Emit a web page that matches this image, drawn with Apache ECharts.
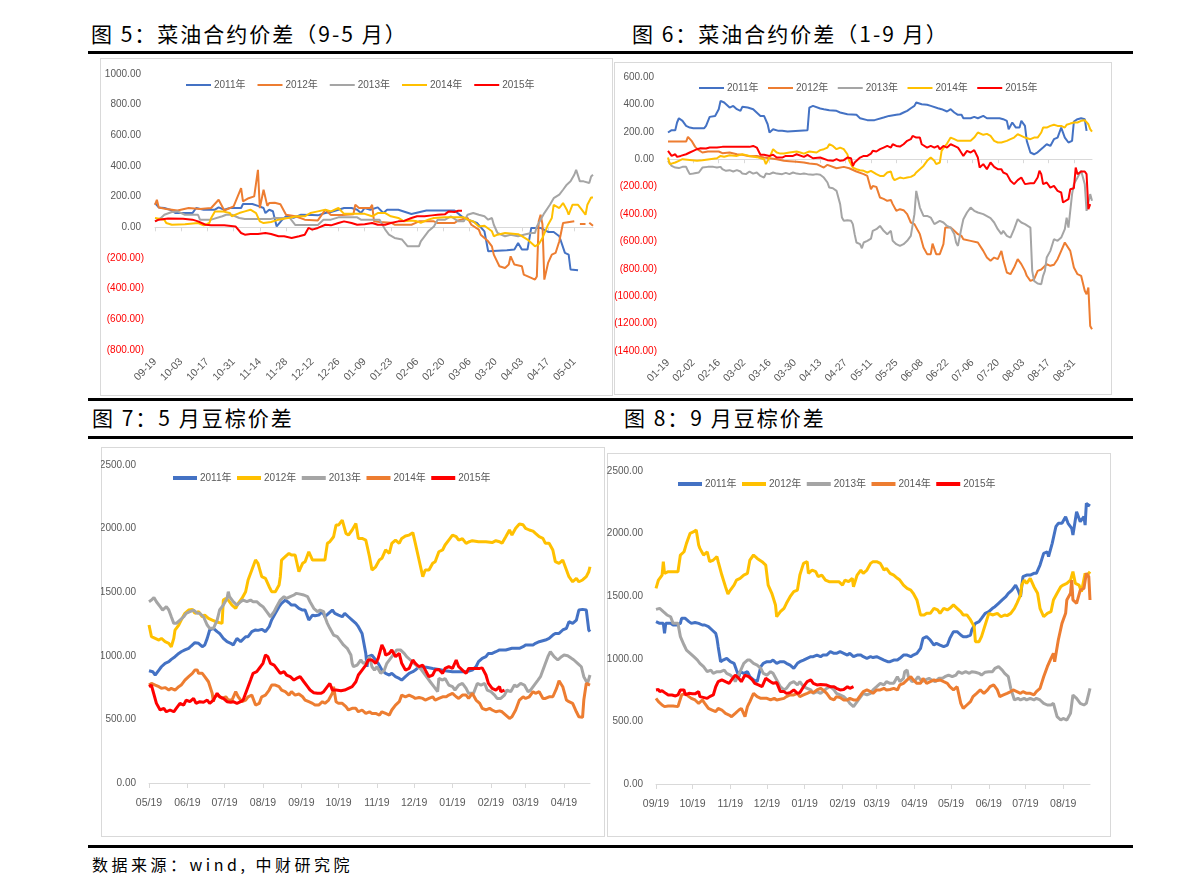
<!DOCTYPE html>
<html><head><meta charset="utf-8">
<script src="https://cdn.jsdelivr.net/npm/echarts@6/dist/echarts.min.js"></script>
<style>
html,body{margin:0;padding:0;background:#fff;}
body{width:1191px;height:895px;position:relative;overflow:hidden;font-family:"Noto Sans CJK SC",sans-serif;}
.t{position:absolute;font-size:21px;line-height:22px;letter-spacing:2px;color:#000;white-space:nowrap;}
.src{position:absolute;font-size:16px;line-height:18px;letter-spacing:3.5px;color:#000;white-space:nowrap;}
.rule{position:absolute;left:88px;width:1045px;height:3px;background:#000;}
.box{position:absolute;outline:1px solid #D9D9D9;outline-offset:-1px;}
</style></head><body>
<div class="t" style="left:91px;top:22px">图 5：菜油合约价差（9-5 月）</div>
<div class="t" style="left:632px;top:22px">图 6：菜油合约价差（1-9 月）</div>
<div class="rule" style="top:51px"></div>
<div id="c5" class="box" style="left:100px;top:58px;width:513px;height:338px"></div>
<div id="c6" class="box" style="left:614px;top:62px;width:498px;height:333px"></div>
<div class="rule" style="top:398px"></div>
<div class="t" style="left:92px;top:406px">图 7：5 月豆棕价差</div>
<div class="t" style="left:624px;top:406px">图 8：9 月豆棕价差</div>
<div class="rule" style="top:436px"></div>
<div id="c7" class="box" style="left:101px;top:447px;width:504px;height:390px"></div>
<div id="c8" class="box" style="left:607px;top:453px;width:504px;height:384px"></div>
<div class="rule" style="top:845px"></div>
<div class="src" style="left:92px;top:855px">数据来源：wind, 中财研究院</div>
<script>
// ---------- legend names ----------
const yearNames = ['2011年','2012年','2013年','2014年','2015年'];

// ---------- axis definitions (start date, number of calendar days) ----------
const axis5 = {start:[2014,9,19], days:235, sep:'-'};
const axis6 = {start:[2015,1,19], days:235, sep:'-'};
const axis7 = {start:[2014,5,19], days:357, sep:'/'};
const axis8 = {start:[2014,9,19], days:357, sep:'/'};

// ---------- 图5 data: [day offset from 09-19, value] ----------
const c5_2011 = [[0,158],[2,130],[5,126],[8,115],[11,93],[20,93],[22,126],[26,115],[32,115],[34,130],[37,115],[40,126],[46,126],[47,152],[52,152],[55,140],[58,126],[59,93],[61,115],[63,105],[65,6],[68,50],[70,72],[74,62],[78,82],[84,80],[87,78],[91,93],[94,100],[98,115],[101,126],[105,126],[108,115],[110,93],[112,126],[115,115],[119,130],[122,93],[124,115],[130,115],[137,87],[145,110],[160,110],[165,60],[172,28],[176,-26],[178,-156],[188,-150],[192,-145],[194,-102],[196,-145],[199,-145],[201,-4],[206,-4],[210,-30],[213,-30],[216,-58],[219,-167],[221,-178],[222,-275],[226,-280]];
const c5_2012 = [[0,147],[1,180],[2,130],[6,120],[12,110],[18,126],[24,120],[30,126],[34,180],[37,110],[42,137],[46,256],[47,169],[50,190],[53,202],[55,375],[56,125],[58,245],[60,140],[61,158],[64,160],[67,150],[70,82],[75,72],[80,50],[87,45],[91,115],[94,80],[100,80],[106,85],[107,147],[109,126],[115,126],[116,147],[117,40],[120,35],[126,30],[128,17],[137,17],[139,28],[141,39],[149,39],[151,28],[160,28],[162,45],[167,61],[169,17],[173,-15],[174,-48],[176,-69],[178,-91],[180,-124],[181,-178],[184,-254],[187,-265],[189,-243],[190,-189],[192,-243],[196,-254],[197,-308],[201,-330],[203,-341],[204,-320],[205,39],[206,82],[207,20],[208,-341],[209,-330],[210,-232],[212,-178],[214,-167],[216,-91],[218,28],[219,39],[224,39],[225,null],[227,22],[230,22],[231,null],[232,30],[234,10]];
const c5_2013 = [[0,39],[3,60],[5,82],[9,100],[12,104],[16,82],[23,82],[24,50],[30,50],[36,72],[38,82],[41,82],[45,61],[48,55],[62,55],[64,61],[72,61],[75,15],[87,15],[90,50],[94,50],[98,65],[108,65],[110,50],[120,50],[121,39],[123,-15],[125,-48],[128,-69],[132,-80],[135,-124],[141,-124],[142,-91],[146,-26],[149,6],[151,50],[155,50],[158,72],[162,39],[165,39],[167,82],[170,93],[173,82],[174,72],[176,72],[178,50],[180,61],[181,17],[183,-37],[187,-58],[190,-48],[194,-58],[197,-48],[201,-37],[203,-37],[204,6],[206,50],[208,93],[211,147],[213,190],[216,213],[218,245],[220,278],[222,300],[224,343],[225,375],[227,300],[229,300],[232,289],[233,332],[234,343]];
const c5_2014 = [[0,61],[5,50],[6,28],[9,17],[16,20],[23,28],[26,13],[29,28],[30,61],[32,104],[36,104],[40,93],[41,72],[45,93],[48,104],[51,115],[54,93],[56,39],[58,28],[62,35],[66,50],[71,61],[76,72],[80,72],[83,93],[87,104],[91,115],[94,104],[98,126],[101,88],[112,88],[116,72],[119,93],[123,93],[126,72],[130,61],[133,39],[137,45],[140,39],[142,30],[146,50],[149,61],[155,65],[165,65],[167,50],[170,39],[173,6],[174,-4],[176,10],[180,-26],[181,-58],[183,-48],[187,-37],[194,-45],[196,-58],[199,-80],[203,-124],[205,-110],[207,-69],[210,17],[212,61],[213,147],[216,126],[218,158],[220,115],[221,82],[223,147],[226,147],[228,115],[230,82],[231,147],[233,195],[234,195]];
const c5_2015 = [[0,39],[2,50],[7,58],[15,56],[20,50],[23,39],[27,17],[30,13],[37,13],[43,6],[46,-37],[48,-48],[51,-43],[55,-43],[59,-37],[62,-43],[66,-58],[69,-58],[73,-69],[77,-58],[80,-48],[82,-4],[84,-15],[87,-4],[91,17],[94,13],[98,28],[101,39],[105,28],[108,17],[112,20],[116,28],[119,17],[123,17],[126,28],[130,39],[133,42],[137,61],[140,72],[144,72],[148,78],[151,82],[155,86],[157,104],[160,100],[162,108],[164,108]];

// ---------- 图6 data: [day offset from 01-19, value] ----------
const c6_2011 = [[0,195],[2,212],[4,212],[5,268],[6,299],[8,280],[10,243],[12,231],[14,226],[20,226],[21,243],[23,309],[26,316],[28,365],[29,426],[31,414],[32,401],[34,377],[36,389],[38,365],[40,353],[41,382],[44,377],[47,365],[51,316],[53,316],[55,255],[56,195],[58,219],[61,207],[63,207],[66,202],[67,212],[77,212],[78,377],[80,389],[84,370],[86,365],[89,358],[93,353],[95,341],[99,328],[104,324],[106,299],[110,285],[114,285],[115,299],[119,304],[122,316],[126,324],[128,328],[130,341],[132,353],[134,372],[136,389],[137,414],[140,401],[143,397],[145,389],[149,372],[151,365],[154,348],[156,365],[158,341],[160,324],[162,324],[163,299],[167,299],[169,309],[171,299],[174,316],[176,299],[180,299],[183,299],[185,292],[187,280],[188,219],[190,268],[192,231],[194,231],[195,280],[197,243],[198,134],[200,49],[202,36],[204,50],[205,61],[207,85],[209,109],[211,97],[213,146],[215,158],[217,231],[219,158],[221,122],[223,134],[224,275],[226,292],[228,299],[230,292],[231,207]];
const c6_2012 = [[0,129],[10,129],[11,163],[13,134],[15,90],[17,66],[19,49],[22,56],[25,56],[28,56],[30,44],[34,49],[38,36],[41,32],[45,22],[49,24],[53,12],[56,7],[60,0],[64,-12],[67,-15],[71,-19],[75,-24],[78,-32],[82,-36],[86,-61],[88,-41],[89,-49],[93,-66],[97,-56],[100,-66],[104,-90],[108,-109],[110,-122],[112,-219],[113,-195],[115,-202],[117,-280],[119,-290],[121,-304],[123,-298],[124,-328],[126,-377],[128,-365],[130,-372],[132,-401],[134,-462],[136,-474],[138,-523],[139,-547],[141,-645],[143,-693],[145,-693],[146,-616],[147,-620],[148,-693],[150,-693],[152,-620],[153,-499],[154,-487],[156,-499],[158,-523],[160,-547],[162,-560],[163,-584],[167,-596],[171,-608],[172,-620],[174,-669],[176,-718],[178,-742],[180,-718],[182,-730],[184,-669],[185,-730],[187,-827],[189,-839],[191,-791],[193,-730],[195,-766],[197,-815],[198,-851],[200,-888],[202,-878],[204,-815],[206,-805],[207,-791],[209,-766],[211,-778],[213,-770],[215,-730],[217,-669],[219,-608],[220,-596],[222,-669],[224,-791],[226,-839],[228,-851],[230,-961],[231,-985],[232,-937],[233,-1217],[234,-1241]];
const c6_2013 = [[0,-12],[2,-49],[4,-61],[6,-65],[8,-56],[10,-56],[11,-85],[12,-109],[14,-105],[17,-97],[19,-61],[20,-70],[22,-56],[25,-56],[27,-61],[29,-56],[30,-73],[32,-85],[34,-80],[36,-90],[38,-80],[40,-90],[41,-105],[43,-109],[45,-90],[47,-105],[49,-97],[51,-122],[53,-134],[54,-105],[56,-109],[58,-97],[60,-105],[63,-109],[65,-100],[67,-109],[69,-97],[71,-105],[73,-109],[75,-105],[77,-109],[78,-105],[80,-114],[82,-109],[84,-114],[86,-134],[88,-170],[89,-207],[91,-212],[93,-231],[95,-328],[96,-426],[97,-450],[99,-445],[101,-450],[102,-474],[103,-547],[104,-608],[106,-620],[107,-650],[108,-608],[110,-596],[112,-580],[113,-523],[115,-511],[117,-487],[119,-523],[121,-547],[123,-523],[124,-596],[126,-620],[128,-633],[130,-620],[132,-596],[134,-560],[135,-547],[136,-401],[137,-231],[139,-353],[141,-414],[143,-414],[145,-426],[147,-474],[148,-474],[150,-450],[152,-462],[154,-487],[156,-499],[158,-547],[159,-608],[160,-633],[162,-499],[163,-438],[165,-389],[167,-353],[169,-377],[171,-389],[172,-385],[174,-401],[176,-415],[178,-430],[180,-462],[182,-511],[184,-547],[185,-523],[187,-560],[189,-572],[191,-511],[193,-438],[195,-462],[197,-474],[198,-474],[200,-499],[201,-815],[202,-888],[204,-907],[206,-912],[207,-851],[208,-815],[209,-718],[211,-669],[213,-584],[215,-596],[217,-572],[219,-511],[220,-426],[221,-499],[223,-255],[224,-182],[226,-134],[228,-85],[230,-182],[231,-377],[232,-389],[233,-255],[234,-304]];
const c6_2014 = [[0,12],[1,-36],[2,-49],[4,-24],[6,-12],[8,0],[12,-5],[16,-12],[19,-8],[23,0],[27,7],[29,24],[31,18],[34,29],[38,24],[41,36],[45,24],[49,15],[53,0],[54,-36],[55,-12],[56,12],[58,73],[60,49],[62,41],[64,41],[67,49],[71,56],[73,49],[75,41],[78,56],[82,49],[84,66],[86,73],[88,85],[89,109],[91,97],[93,73],[95,85],[97,73],[99,36],[100,-12],[102,-61],[104,-73],[106,-80],[108,-85],[110,-97],[112,-85],[113,-97],[115,-109],[117,-122],[119,-122],[121,-97],[123,-90],[124,-134],[125,-153],[126,-146],[128,-134],[130,-140],[132,-134],[134,-129],[136,-114],[137,-97],[139,-73],[141,-49],[143,-12],[145,12],[147,-12],[148,-36],[150,-24],[151,61],[152,80],[154,114],[156,158],[158,146],[160,134],[162,134],[163,122],[165,134],[167,134],[169,158],[171,195],[172,187],[174,178],[176,185],[178,170],[180,134],[182,122],[184,122],[185,134],[187,134],[189,146],[191,158],[193,182],[195,170],[197,158],[198,146],[200,146],[202,158],[204,158],[206,195],[207,231],[209,231],[211,243],[213,251],[215,243],[217,243],[219,231],[220,251],[222,260],[224,268],[226,268],[228,280],[230,285],[231,280],[232,255],[233,219],[234,202]];
const c6_2015 = [[0,61],[2,24],[4,36],[5,17],[7,24],[8,24],[10,36],[12,49],[14,61],[16,73],[18,80],[19,73],[21,78],[23,85],[27,85],[30,90],[34,90],[38,90],[41,90],[45,90],[47,97],[49,85],[51,32],[53,32],[56,24],[58,32],[60,12],[63,12],[65,24],[69,24],[71,36],[75,17],[77,32],[80,7],[84,12],[88,-7],[89,-2],[91,-12],[93,0],[95,-12],[97,-7],[99,12],[101,7],[102,-49],[103,-24],[104,-12],[106,12],[108,24],[110,24],[112,41],[113,61],[115,56],[117,73],[119,85],[121,97],[123,85],[124,109],[126,97],[128,92],[130,109],[132,134],[134,146],[135,170],[136,163],[137,158],[139,158],[140,109],[143,85],[145,97],[147,85],[149,97],[150,73],[152,97],[154,85],[156,109],[158,97],[160,85],[161,66],[163,24],[165,61],[167,49],[169,66],[171,12],[172,-61],[173,-49],[174,-36],[176,-73],[178,-24],[180,-56],[182,-73],[184,-73],[185,-97],[187,-109],[189,-158],[191,-182],[193,-153],[195,-134],[197,-182],[198,-170],[200,-175],[202,-175],[204,-134],[205,-85],[206,-109],[207,-182],[208,-195],[209,-170],[211,-207],[213,-195],[215,-231],[217,-243],[218,-316],[219,-328],[221,-292],[222,-219],[224,-212],[225,-61],[226,-109],[227,-100],[228,-90],[230,-90],[231,-109],[232,-365],[233,-328]];

// ---------- 图7 data: [day offset from 05/19, value] ----------
const c7_2011 = [[0,883],[3,875],[5,849],[8,888],[10,914],[13,941],[16,954],[18,972],[21,993],[24,1019],[26,1032],[29,1046],[32,1059],[34,1077],[37,1103],[40,1098],[43,1072],[45,1085],[47,1137],[49,1203],[52,1216],[55,1190],[57,1176],[60,1137],[63,1111],[66,1098],[68,1085],[71,1137],[74,1111],[75,1098],[78,1150],[80,1150],[83,1190],[86,1203],[88,1200],[91,1208],[94,1190],[97,1229],[99,1281],[102,1334],[105,1386],[107,1412],[110,1438],[113,1417],[115,1399],[118,1399],[121,1373],[124,1360],[126,1360],[129,1281],[132,1320],[134,1315],[137,1320],[140,1347],[142,1307],[145,1334],[148,1360],[150,1334],[153,1320],[156,1307],[158,1334],[161,1307],[164,1281],[167,1255],[169,1229],[172,1176],[175,1019],[176,914],[177,993],[180,1006],[183,967],[185,941],[188,888],[191,862],[194,849],[196,862],[199,836],[202,822],[204,809],[207,836],[210,862],[213,875],[215,888],[218,914],[224,910],[229,900],[234,893],[239,883],[245,875],[256,875],[261,888],[264,914],[266,954],[269,980],[272,993],[274,1019],[277,1019],[280,1032],[283,1046],[288,1046],[293,1059],[299,1059],[302,1072],[304,1085],[310,1085],[312,1098],[315,1111],[320,1124],[323,1137],[326,1163],[328,1176],[331,1176],[334,1203],[337,1216],[339,1268],[342,1255],[345,1281],[347,1360],[350,1365],[353,1360],[355,1203],[356,1190]];
const c7_2012 = [[0,1242],[2,1150],[5,1137],[8,1124],[10,1137],[13,1111],[16,1098],[18,1071],[20,1137],[21,1202],[24,1242],[26,1281],[29,1334],[32,1360],[35,1365],[37,1334],[40,1347],[43,1307],[45,1320],[48,1294],[51,1281],[54,1268],[59,1255],[60,1438],[62,1451],[64,1438],[67,1399],[70,1373],[72,1412],[75,1451],[78,1504],[80,1596],[83,1674],[86,1753],[88,1727],[91,1622],[94,1609],[97,1543],[99,1504],[102,1504],[105,1556],[106,1622],[107,1753],[110,1779],[113,1805],[115,1792],[118,1792],[121,1661],[124,1727],[126,1740],[129,1818],[132,1753],[142,1753],[144,1884],[146,1897],[149,1936],[151,2028],[153,2028],[156,2067],[159,1962],[161,1949],[164,1989],[167,2041],[169,1923],[172,1923],[175,1910],[178,1779],[180,1674],[183,1700],[186,1753],[188,1766],[191,1832],[194,1805],[196,1884],[199,1910],[202,1884],[204,1923],[207,1942],[210,1949],[213,1968],[215,1884],[218,1753],[221,1622],[223,1674],[226,1674],[229,1727],[231,1740],[234,1818],[237,1832],[239,1871],[242,1910],[245,1949],[248,1936],[250,1910],[253,1920],[256,1884],[258,1895],[261,1905],[266,1897],[272,1897],[277,1890],[280,1905],[283,1897],[285,1884],[288,1936],[291,1989],[293,1949],[296,2002],[299,2036],[302,2030],[304,2002],[307,1989],[310,1980],[312,1962],[315,1936],[318,1923],[320,1884],[323,1884],[326,1832],[328,1740],[331,1727],[334,1753],[337,1674],[339,1622],[342,1582],[345,1609],[347,1582],[350,1596],[353,1622],[355,1661],[356,1700]];
const c7_2013 = [[0,1425],[2,1438],[4,1459],[6,1425],[9,1386],[11,1360],[14,1386],[16,1360],[18,1307],[20,1255],[22,1255],[25,1281],[28,1307],[30,1334],[33,1347],[36,1360],[39,1334],[41,1334],[44,1307],[47,1242],[49,1216],[52,1216],[55,1281],[57,1360],[60,1399],[63,1451],[64,1504],[65,1465],[68,1425],[71,1399],[74,1425],[76,1438],[79,1425],[82,1438],[84,1425],[87,1425],[90,1399],[92,1386],[95,1347],[98,1307],[101,1347],[103,1386],[106,1438],[109,1465],[111,1451],[114,1465],[117,1478],[119,1491],[122,1485],[125,1478],[128,1465],[130,1425],[133,1373],[136,1347],[138,1360],[141,1347],[142,1307],[144,1255],[146,1216],[149,1163],[152,1150],[155,1111],[157,1085],[160,1059],[163,1006],[164,941],[165,914],[168,927],[171,967],[173,941],[176,955],[178,993],[180,914],[182,888],[184,914],[187,862],[190,888],[192,941],[195,980],[198,1019],[200,1046],[203,1046],[206,1019],[208,993],[211,967],[214,941],[217,914],[219,901],[222,862],[225,822],[227,796],[230,757],[233,718],[234,822],[237,809],[239,822],[242,770],[245,757],[247,731],[250,770],[253,783],[256,744],[258,705],[262,705],[265,783],[268,770],[271,783],[273,731],[276,718],[279,691],[281,665],[284,665],[287,691],[289,731],[292,718],[295,770],[297,757],[300,783],[303,770],[306,718],[308,730],[311,770],[314,809],[316,836],[319,914],[322,993],[324,1032],[327,993],[330,967],[333,993],[335,1006],[338,1000],[341,980],[343,967],[346,941],[349,914],[351,836],[354,783],[356,849]];
const c7_2014 = [[0,770],[2,783],[5,770],[8,757],[10,744],[13,750],[16,731],[18,744],[21,731],[24,757],[26,770],[29,809],[32,836],[35,862],[37,888],[39,888],[40,862],[43,862],[45,836],[48,796],[51,705],[52,639],[53,678],[56,691],[59,665],[62,678],[64,652],[67,652],[70,718],[72,678],[75,639],[78,652],[80,678],[83,691],[86,613],[89,626],[91,678],[94,691],[97,731],[99,770],[102,770],[105,757],[107,731],[110,718],[113,691],[115,718],[118,691],[121,700],[124,678],[126,652],[129,639],[132,626],[134,613],[137,613],[140,639],[142,626],[145,652],[148,705],[149,757],[151,639],[153,626],[156,626],[159,600],[161,574],[164,587],[167,587],[169,560],[172,574],[175,547],[178,560],[180,547],[183,547],[186,534],[188,560],[191,547],[194,534],[196,574],[199,613],[202,639],[204,691],[207,678],[210,691],[213,678],[215,665],[218,672],[221,665],[223,652],[226,665],[229,678],[231,652],[234,665],[237,678],[240,678],[242,691],[245,705],[248,678],[250,665],[253,691],[256,691],[258,665],[261,705],[264,652],[267,626],[269,587],[272,574],[275,587],[277,574],[280,560],[283,567],[285,560],[288,534],[291,508],[293,521],[296,574],[299,652],[302,678],[304,665],[307,678],[310,718],[312,705],[315,718],[318,665],[320,665],[323,678],[326,678],[329,744],[331,804],[334,757],[337,652],[339,639],[342,626],[345,560],[347,521],[350,516],[351,652],[353,783],[354,770],[356,770]];
const c7_2015 = [[0,757],[2,770],[3,731],[6,626],[9,574],[12,587],[14,560],[17,574],[20,560],[22,587],[25,626],[28,613],[30,652],[33,639],[36,665],[38,626],[41,639],[44,635],[47,652],[49,626],[52,652],[55,705],[57,678],[60,665],[63,639],[66,635],[68,639],[71,626],[74,639],[76,652],[79,731],[82,809],[84,862],[87,875],[90,914],[92,941],[94,1006],[96,993],[98,941],[101,927],[103,901],[106,862],[109,875],[111,849],[114,836],[117,809],[119,822],[122,836],[125,796],[128,757],[130,731],[133,710],[136,705],[139,705],[141,718],[144,757],[146,783],[148,731],[151,731],[155,725],[158,731],[161,744],[164,757],[167,796],[169,849],[172,888],[175,927],[177,967],[180,967],[183,941],[185,980],[188,1085],[190,1046],[191,1006],[194,1019],[196,1046],[199,993],[202,1019],[204,941],[207,888],[210,901],[213,967],[215,941],[218,914],[221,927],[223,888],[226,836],[229,849],[231,888],[234,893],[237,862],[239,901],[242,914],[245,901],[248,967],[250,914],[253,888],[256,862],[258,901],[267,901],[269,905],[272,849],[274,783],[277,744],[280,731],[283,757],[284,718],[287,731]];

// ---------- 图8 data: [day offset from 09/19, value] ----------
const c8_2011 = [[0,1297],[3,1283],[6,1283],[7,1203],[8,1283],[12,1283],[14,1270],[17,1270],[20,1283],[21,1323],[24,1323],[27,1297],[29,1283],[32,1290],[35,1283],[38,1270],[40,1270],[43,1257],[46,1230],[49,1203],[50,1163],[51,1097],[53,977],[55,990],[58,1004],[61,977],[64,964],[66,910],[68,857],[69,897],[72,884],[75,897],[77,857],[80,831],[83,817],[84,817],[86,937],[88,964],[91,977],[94,977],[96,990],[99,964],[102,977],[105,977],[107,964],[110,950],[113,924],[116,964],[118,977],[121,990],[124,1004],[127,1017],[129,1017],[132,1030],[135,1017],[137,1030],[140,1030],[143,1057],[146,1044],[148,1044],[151,1057],[154,1044],[157,1030],[159,1044],[162,1017],[165,1030],[168,1030],[170,1017],[173,1004],[176,1017],[178,1010],[181,1017],[184,1004],[187,990],[190,977],[192,977],[195,990],[198,990],[200,1004],[203,1030],[206,1030],[209,1017],[211,1030],[214,1044],[217,1084],[219,1163],[222,1177],[225,1150],[228,1110],[230,1124],[233,1110],[236,1097],[239,1110],[241,1163],[244,1217],[247,1217],[250,1190],[252,1177],[255,1177],[258,1190],[259,1230],[262,1283],[265,1297],[267,1323],[270,1363],[273,1376],[276,1403],[278,1416],[281,1443],[284,1470],[287,1496],[289,1523],[292,1549],[295,1589],[297,1549],[299,1496],[301,1656],[304,1669],[307,1669],[310,1683],[312,1683],[315,1749],[318,1842],[321,1855],[322,1816],[325,1922],[328,2055],[330,2082],[333,2082],[336,2135],[338,2082],[341,2042],[342,1989],[345,2175],[348,2095],[351,2135],[352,2068],[353,2241],[356,2220]];
const c8_2012 = [[0,1563],[2,1629],[5,1669],[6,1776],[7,1683],[10,1696],[14,1696],[18,1696],[20,1829],[23,1855],[25,1922],[28,2002],[31,2015],[33,2029],[35,1909],[36,1882],[39,1829],[42,1855],[44,1776],[47,1789],[50,1816],[51,1776],[54,1669],[57,1576],[59,1517],[61,1549],[64,1589],[66,1629],[69,1643],[72,1669],[75,1683],[77,1789],[80,1829],[83,1802],[87,1776],[90,1749],[92,1589],[95,1523],[98,1430],[99,1336],[102,1376],[105,1403],[107,1443],[110,1496],[113,1536],[116,1549],[118,1669],[121,1762],[124,1776],[125,1683],[128,1709],[131,1696],[133,1656],[136,1669],[139,1629],[142,1616],[150,1616],[153,1589],[155,1629],[158,1616],[161,1643],[162,1576],[165,1669],[168,1709],[170,1683],[173,1709],[176,1762],[178,1776],[181,1776],[184,1762],[187,1709],[189,1722],[192,1683],[195,1669],[198,1643],[200,1629],[203,1589],[206,1563],[209,1549],[211,1523],[214,1470],[217,1350],[220,1350],[222,1363],[225,1363],[228,1403],[231,1390],[233,1363],[236,1403],[239,1390],[241,1403],[244,1430],[247,1403],[250,1376],[252,1350],[255,1350],[258,1310],[261,1257],[262,1137],[265,1137],[267,1177],[270,1270],[273,1363],[276,1350],[280,1363],[283,1336],[286,1350],[288,1345],[291,1363],[294,1403],[296,1443],[299,1509],[300,1589],[302,1629],[304,1602],[307,1643],[310,1576],[313,1523],[315,1403],[318,1336],[321,1363],[324,1376],[326,1470],[329,1523],[332,1576],[334,1589],[337,1602],[340,1629],[342,1696],[344,1602],[347,1589],[349,1536],[352,1683],[353,1656],[356,1696]];
const c8_2013 = [[0,1395],[3,1403],[6,1376],[9,1350],[12,1336],[14,1283],[18,1283],[20,1177],[23,1110],[25,1070],[28,1044],[31,1017],[34,990],[36,964],[39,937],[42,897],[45,910],[47,884],[50,897],[53,897],[56,910],[58,884],[61,870],[64,844],[65,817],[66,831],[69,897],[72,964],[75,990],[77,990],[80,964],[83,950],[86,924],[88,884],[91,870],[94,897],[96,884],[99,831],[102,777],[105,751],[107,764],[110,804],[113,817],[116,791],[118,817],[121,777],[124,764],[127,751],[129,724],[132,738],[135,724],[137,738],[140,764],[143,777],[146,751],[148,724],[151,711],[154,698],[157,671],[159,644],[162,618],[165,658],[168,698],[170,724],[173,711],[176,724],[178,751],[181,777],[184,804],[187,791],[189,817],[192,804],[195,804],[198,857],[200,817],[203,844],[204,897],[206,910],[207,857],[210,817],[213,831],[215,857],[218,817],[221,831],[224,844],[226,831],[229,817],[232,844],[235,844],[237,857],[240,870],[243,857],[246,870],[248,897],[251,884],[254,897],[257,884],[259,897],[262,893],[265,884],[267,870],[270,893],[273,897],[276,897],[278,924],[281,937],[284,910],[286,884],[289,857],[291,764],[294,671],[297,684],[299,671],[302,684],[304,671],[307,684],[310,671],[312,684],[315,671],[318,644],[321,631],[324,631],[326,644],[329,538],[332,511],[334,524],[337,511],[340,564],[342,711],[345,684],[348,644],[351,631],[353,644],[356,764]];
const c8_2014 = [[0,684],[2,658],[3,671],[5,631],[7,618],[10,623],[14,623],[18,618],[21,711],[24,724],[27,698],[29,684],[32,671],[35,644],[38,671],[40,644],[43,604],[46,591],[49,578],[51,604],[54,591],[57,564],[60,551],[62,538],[65,564],[68,591],[70,604],[73,538],[75,618],[77,658],[80,724],[83,698],[86,684],[91,684],[94,671],[97,684],[99,671],[105,684],[107,698],[110,711],[113,711],[116,724],[118,698],[121,711],[124,724],[127,738],[129,730],[132,751],[135,764],[137,751],[140,724],[143,684],[146,671],[148,698],[151,690],[154,671],[157,671],[159,684],[162,671],[165,671],[168,711],[170,738],[173,751],[176,738],[178,724],[181,751],[184,751],[187,764],[189,751],[192,755],[195,764],[198,751],[200,791],[203,804],[206,831],[209,857],[211,831],[214,804],[217,804],[219,844],[222,804],[225,817],[228,831],[230,825],[233,831],[236,817],[239,804],[241,777],[244,751],[247,777],[250,644],[252,604],[255,631],[258,658],[260,698],[263,724],[266,751],[269,724],[272,751],[274,777],[277,791],[280,751],[282,698],[285,711],[288,724],[291,738],[293,751],[296,738],[299,724],[301,738],[304,724],[307,724],[310,711],[312,738],[315,764],[318,857],[321,937],[324,1004],[326,1044],[327,977],[330,1150],[333,1283],[336,1363],[337,1470],[340,1523],[341,1629],[342,1470],[345,1443],[348,1549],[351,1562],[353,1683],[355,1656],[356,1470]];
const c8_2015 = [[0,751],[2,755],[3,738],[5,745],[8,724],[10,711],[13,711],[16,703],[18,711],[20,751],[21,764],[23,751],[24,711],[27,724],[30,720],[32,720],[35,738],[36,698],[42,684],[44,698],[47,711],[49,777],[51,817],[54,831],[57,817],[60,804],[62,831],[65,870],[68,844],[70,817],[73,870],[76,857],[79,831],[81,804],[84,791],[87,777],[90,844],[91,857],[94,817],[96,804],[99,810],[102,738],[105,738],[107,724],[110,730],[113,751],[116,724],[118,730],[121,777],[124,817],[127,831],[129,804],[132,791],[135,795],[140,790],[143,777],[146,777],[148,764],[151,751],[154,755],[157,777],[159,764],[162,777]];

// ---------- helpers ----------
const FONT = '"Liberation Sans", Arial, "Noto Sans CJK SC", sans-serif';
const GREY_TXT = '#595959';
const AXIS_GREY = '#D9D9D9';
const BLUE='#4472C4', ORANGE='#ED7D31', GRAY='#A5A5A5', YELLOW='#FFC000', RED='#FF0000';

function makeDays(ax) {
  const out = [];
  const [y, m, d] = ax.start;
  for (let i = 0; i < ax.days; i++) {
    const dt = new Date(Date.UTC(y, m - 1, d + i));
    out.push(String(dt.getUTCMonth() + 1).padStart(2, '0') + ax.sep + String(dt.getUTCDate()).padStart(2, '0'));
  }
  return out;
}
function mkSeries(datas, colors, width) {
  return datas.map((d, i) => ({
    name: yearNames[i], type: 'line', data: d, xAxisIndex: 0, yAxisIndex: 0,
    showSymbol: false, symbol: 'none', connectNulls: false,
    lineStyle: {color: colors[i], width: width}, itemStyle: {color: colors[i]},
    emphasis: {disabled: true}
  }));
}
function legend(left, top, itemW, itemH, gap) {
  return {left: left, top: top, padding: 0, icon: 'rect', itemWidth: itemW, itemHeight: itemH, itemGap: gap,
    textStyle: {color: GREY_TXT, fontSize: 10, fontFamily: FONT, padding: [0,0,0,-2]}, data: yearNames};
}
const negFmt = v => v < 0 ? '{n|(' + (-v).toFixed(2) + ')}' : '{p|' + v.toFixed(2) + '}';

function spreadOption(cfg) {
  const cats = makeDays(cfg.axis);
  const every14 = (i) => i % 14 === 0;
  return {
    animation: false,
    legend: legend(cfg.legLeft, cfg.legTop, 25, 2, cfg.legGap),
    grid: Object.assign({containLabel: false, outerBoundsMode: 'none'}, cfg.grid),
    xAxis: [
      {type: 'category', data: cats, boundaryGap: false, position: 'bottom',
        axisLine: {show: false, onZero: false}, axisTick: {show: false}, splitLine: {show: false},
        axisLabel: {interval: every14, rotate: 45, margin: 10, color: GREY_TXT, fontSize: 10.5, fontFamily: FONT}},
      {type: 'category', data: cats, boundaryGap: false, position: 'bottom',
        axisLine: {show: true, onZero: true, lineStyle: {color: AXIS_GREY, width: 1}},
        axisTick: {show: true, interval: every14, length: 4, lineStyle: {color: AXIS_GREY}},
        axisLabel: {show: false}, splitLine: {show: false}}
    ],
    yAxis: {type: 'value', min: cfg.min, max: cfg.max, interval: 200,
      axisLine: {show: false}, axisTick: {show: false}, splitLine: {show: false},
      axisLabel: {formatter: negFmt, margin: 11, fontSize: 10, fontFamily: FONT,
        rich: {n: {color: RED, fontSize: 10, fontFamily: FONT}, p: {color: GREY_TXT, fontSize: 10, fontFamily: FONT, padding: [0,3,0,0]}}}},
    series: mkSeries(cfg.data, cfg.colors, 2)
  };
}
function spreadOption2(cfg) {
  const cats = makeDays(cfg.axis);
  const on19 = (i, v) => v.slice(3) === '19';
  return {
    animation: false,
    legend: legend(cfg.legLeft, cfg.legTop, 24, 4, cfg.legGap),
    grid: Object.assign({containLabel: false, outerBoundsMode: 'none'}, cfg.grid),
    xAxis: {type: 'category', data: cats, boundaryGap: false,
      axisLine: {show: true, lineStyle: {color: AXIS_GREY, width: 1}},
      axisTick: {show: true, interval: on19, length: 5, lineStyle: {color: AXIS_GREY}},
      axisLabel: {interval: on19, margin: 15, color: GREY_TXT, fontSize: 10.5, fontFamily: FONT},
      splitLine: {show: false}},
    yAxis: {type: 'value', min: 0, max: 2500, interval: 500,
      axisLine: {show: false}, axisTick: {show: false}, splitLine: {show: false},
      axisLabel: {formatter: v => v.toFixed(2), margin: 13, color: GREY_TXT, fontSize: 10, fontFamily: FONT}},
    series: mkSeries(cfg.data, cfg.colors, 3)
  };
}

echarts.init(document.getElementById('c5')).setOption(spreadOption({
  axis: axis5, min: -800, max: 1000, grid: {left: 55, top: 16, width: 438, height: 276},
  legLeft: 86, legTop: 22, legGap: 12,
  data: [c5_2011, c5_2012, c5_2013, c5_2014, c5_2015], colors: [BLUE, ORANGE, GRAY, YELLOW, RED]
}));
echarts.init(document.getElementById('c6')).setOption(spreadOption({
  axis: axis6, min: -1400, max: 600, grid: {left: 54, top: 15, width: 424, height: 274},
  legLeft: 85, legTop: 21, legGap: 9.5,
  data: [c6_2011, c6_2012, c6_2013, c6_2014, c6_2015], colors: [BLUE, ORANGE, GRAY, YELLOW, RED]
}));
echarts.init(document.getElementById('c7')).setOption(spreadOption2({
  axis: axis7, grid: {left: 48, top: 18, width: 441, height: 318},
  legLeft: 72, legTop: 26, legGap: 5.5,
  data: [c7_2011, c7_2012, c7_2013, c7_2014, c7_2015], colors: [BLUE, YELLOW, GRAY, ORANGE, RED]
}));
echarts.init(document.getElementById('c8')).setOption(spreadOption2({
  axis: axis8, grid: {left: 49, top: 18, width: 434, height: 313},
  legLeft: 71, legTop: 26, legGap: 5.5,
  data: [c8_2011, c8_2012, c8_2013, c8_2014, c8_2015], colors: [BLUE, YELLOW, GRAY, ORANGE, RED]
}));
</script>
</body></html>
